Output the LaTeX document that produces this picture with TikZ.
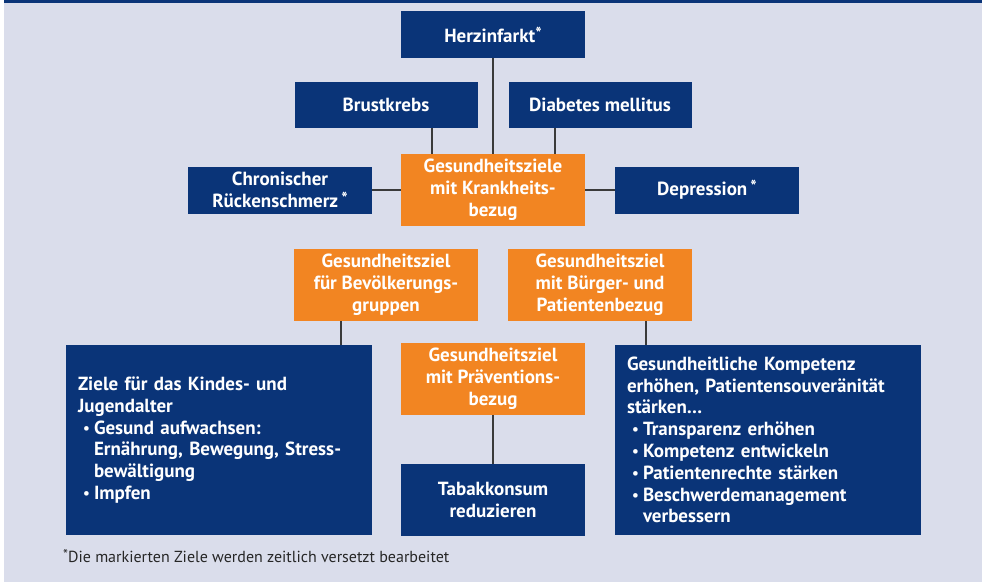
\documentclass[tikz,border=0pt]{standalone}
\usepackage{fontspec}
\setmainfont{PT Sans}
\definecolor{bgc}{HTML}{DADDEB}
\definecolor{dblue}{HTML}{0A3478}
\definecolor{orng}{HTML}{F28522}
\definecolor{linec}{HTML}{3A3A3A}
\newcommand{\mystar}{\raisebox{0.3ex}{\fontsize{17}{17}\selectfont *}}
\newcommand{\mybul}{\hspace*{5pt}\makebox[11pt][l]{\raisebox{0.1ex}{\fontsize{15}{15}\selectfont\textbullet}}}
\newcommand{\mybulind}{\hspace*{16pt}}
\begin{document}
\begin{tikzpicture}[x=1pt,y=-1pt,
  box/.style={rectangle,inner sep=0pt,text=white,font=\bfseries\fontsize{19}{21.8}\selectfont,align=center},
  bluebox/.style={box,fill=dblue},
  orangebox/.style={box,fill=orng},
  conn/.style={draw=linec,line width=1.1pt}]
\useasboundingbox (0,0) rectangle (982,582);
\fill[white] (0,0) rectangle (982,582);
\fill[bgc] (4,0) rectangle (982,582);
\fill[dblue] (4,0) rectangle (982,3);

\node[bluebox,minimum width=184,minimum height=47] (herz) at (493,34.5) {Herzinfarkt\mystar};
\node[bluebox,minimum width=183,minimum height=46] (brust) at (386,105) {Brustkrebs};
\node[bluebox,minimum width=183,minimum height=46] (diab) at (600,105) {Diabetes mellitus};
\node[orangebox,minimum width=184,minimum height=72] (krank) at (493,190) {Gesundheitsziele\\mit Krankheits-\\bezug};
\node[bluebox,minimum width=184,minimum height=47] (chron) at (280,190) {Chronischer\\Rückenschmerz\,\mystar};
\node[bluebox,minimum width=184,minimum height=47] (dep) at (707,190) {Depression\,\mystar};
\node[orangebox,minimum width=184,minimum height=72] (bev) at (386,285) {Gesundheitsziel\\für Bevölkerungs-\\gruppen};
\node[orangebox,minimum width=184,minimum height=72] (burg) at (600,285) {Gesundheitsziel\\mit Bürger- und\\Patientenbezug};
\node[orangebox,minimum width=184,minimum height=72] (prev) at (493,379) {Gesundheitsziel\\mit Präventions-\\bezug};
\node[bluebox,minimum width=184,minimum height=72] (tabak) at (493,500) {Tabakkonsum\\reduzieren};
\node[bluebox,minimum width=306,minimum height=190,align=left,text width=282] (kind) at (219,440)
 {Ziele für das Kindes- und\\Jugendalter\\\mybul Gesund aufwachsen:\\\mybulind Ernährung, Bewegung, Stress-\\\mybulind bewältigung\\\mybul Impfen};
\node[bluebox,minimum width=306,minimum height=190,align=left,text width=282] (patient) at (768,440)
 {Gesundheitliche Kompetenz\\erhöhen, Patientensouveränität\\stärken\dots\\\mybul Transparenz erhöhen\\\mybul Kompetenz entwickeln\\\mybul Patientenrechte stärken\\\mybul Beschwerdemanagement\\\mybulind verbessern};
\node[anchor=west,inner sep=0pt,font=\fontsize{16}{18}\selectfont,text=black!85] (foot) at (63,556) {\raisebox{0.3ex}{\fontsize{14}{14}\selectfont *}Die markierten Ziele werden zeitlich versetzt bearbeitet};

\draw[conn] (herz.south) -- (herz.south |- krank.north);
\draw[conn] ([xshift=46]brust.south) -- ([xshift=46]brust.south |- krank.north);
\draw[conn] ([xshift=-45]diab.south) -- ([xshift=-45]diab.south |- krank.north);
\draw[conn] (chron.east) -- (krank.west);
\draw[conn] (krank.east) -- (dep.west);
\draw[conn] ([xshift=-45]bev.south) -- ([xshift=-45]bev.south |- kind.north);
\draw[conn] ([xshift=46]burg.south) -- ([xshift=46]burg.south |- patient.north);
\draw[conn] (prev.south) -- (tabak.north);
\end{tikzpicture}
\end{document}
